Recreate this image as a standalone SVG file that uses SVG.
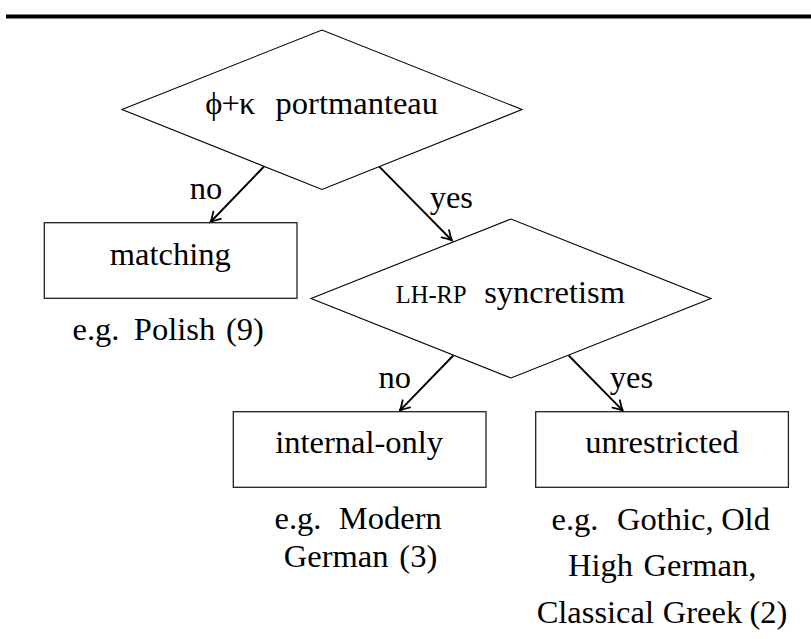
<svg xmlns="http://www.w3.org/2000/svg" width="811" height="639" viewBox="0 0 811 639">
  <style>
    text { font-family: "Liberation Serif", "Times New Roman", serif; font-size: 32.5px; fill: #000; text-anchor: middle; }
    .sc { font-size: 24.5px; }
    .decision { fill: none; stroke: #000; stroke-width: 1.1; }
    .leaf { fill: none; stroke: #222; stroke-width: 1.3; }
    .edge { fill: none; stroke: #000; stroke-width: 1.9; marker-end: url(#tip); }
  </style>
  <defs>
    <!-- curved-barb arrow tip, drawn in user units -->
    <marker id="tip" markerUnits="userSpaceOnUse" viewBox="-12 -7 14 14" refX="0" refY="0" markerWidth="14" markerHeight="14" orient="auto">
      <path d="M-9.5,-5.2 Q-3.5,-1.3 0,0 Q-3.5,1.3 -9.5,5.2" fill="none" stroke="#000" stroke-width="1.8" stroke-linecap="round"/>
    </marker>
  </defs>

  <!-- rule across the top -->
  <rect x="6" y="14.5" width="805" height="4" fill="#000"/>

  <g id="connectors">
    <line class="edge" x1="264" y1="166.5" x2="210.5" y2="222"/>
    <line class="edge" x1="379.3" y1="166.6" x2="452" y2="240.5"/>
    <line class="edge" x1="453.3" y1="355.5" x2="399.8" y2="410.7"/>
    <line class="edge" x1="568.7" y1="355.5" x2="622.8" y2="410.7"/>
    <text x="206" y="199">no</text>
    <text x="451.3" y="208">yes</text>
    <text x="394.8" y="388">no</text>
    <text x="631.5" y="388">yes</text>
  </g>

  <g id="portmanteau">
    <polygon class="decision" points="122,109.5 322,30 522,109.5 322,189.5"/>
    <text x="230.3" y="114" textLength="50" lengthAdjust="spacing">ϕ+κ</text>
    <text x="356.8" y="114">portmanteau</text>
  </g>

  <g id="syncretism">
    <polygon class="decision" points="311,298.5 511,219 711,298.5 511,378"/>
    <text class="sc" x="431.2" y="303">LH-RP</text>
    <text x="554.6" y="303">syncretism</text>
  </g>

  <g id="matching">
    <rect class="leaf" x="44.3" y="222.7" width="252.7" height="75.6"/>
    <text x="170.3" y="265">matching</text>
    <text x="96" y="340">e.g.</text>
    <text x="174.5" y="340">Polish</text>
    <text x="245" y="340">(9)</text>
  </g>

  <g id="internal-only">
    <rect class="leaf" x="233.3" y="411.7" width="252.7" height="75.6"/>
    <text x="359.2" y="453.3">internal-only</text>
    <text x="298" y="529.3">e.g.</text>
    <text x="390.3" y="529.3">Modern</text>
    <text x="336.2" y="567.3">German</text>
    <text x="418.3" y="567.3">(3)</text>
  </g>

  <g id="unrestricted">
    <rect class="leaf" x="535.7" y="411.7" width="252.7" height="75.6"/>
    <text x="662" y="453.3">unrestricted</text>
    <text x="575" y="530">e.g.</text>
    <text x="665.3" y="530">Gothic,</text>
    <text x="745.5" y="530">Old</text>
    <text x="600.5" y="576">High</text>
    <text x="700" y="576">German,</text>
    <text x="595.3" y="622.5">Classical</text>
    <text x="702.5" y="622.5">Greek</text>
    <text x="768.5" y="622.5">(2)</text>
  </g>
</svg>
